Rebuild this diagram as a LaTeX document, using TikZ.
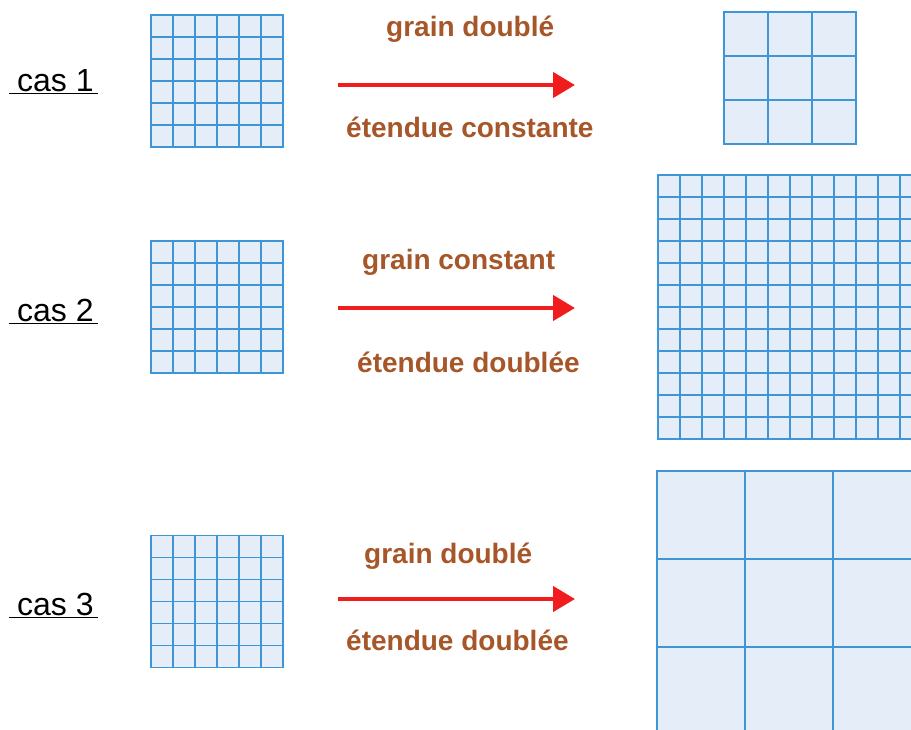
\documentclass[tikz,border=0pt]{standalone}
\usepackage{fontspec}
\setmainfont{Liberation Sans}
\usepackage{xcolor}
\usepackage{tikz}
\usetikzlibrary{positioning,arrows.meta,calc}
\definecolor{gridblue}{RGB}{62,150,214}
\definecolor{gridfill}{RGB}{229,237,248}
\definecolor{labelbrown}{RGB}{166,86,40}
\definecolor{arrowred}{RGB}{240,28,30}
\tikzset{
  gridbox/.style = {draw=gridblue, fill=gridfill, line width=1.8pt,
                    inner sep=0pt, outer sep=0pt},
  gridln/.style  = {draw=gridblue, line width=1.8pt},
  caslbl/.style  = {font=\fontsize{32}{38}\selectfont, inner sep=0pt,
                    anchor=base west},
  orlbl/.style   = {font=\fontsize{28}{34}\selectfont\bfseries,
                    text=labelbrown, inner sep=0pt, anchor=base west},
  ar/.style      = {-{Triangle[length=22pt,width=25pt]}, draw=arrowred,
                    line width=4.5pt},
}
% #1 grid node, #2 cells per side, #3 cell size
\newcommand{\quadrillage}[3]{%
  \foreach \k in {1,...,#2}{
    \draw[gridln] ($(#1.north west)+(\k*#3,0)$) -- ($(#1.south west)+(\k*#3,0)$);
    \draw[gridln] ($(#1.north west)+(0,\k*#3)$) -- ($(#1.north east)+(0,\k*#3)$);
  }}

\begin{document}
\begin{tikzpicture}[x=1pt, y=-1pt]
\useasboundingbox (0,0) rectangle (911,729);
\clip (0,0) rectangle (911,729);

% --- case labels ---
\node[caslbl] (cas1) at (9,91)  {\underline{\hspace{8pt}cas 1\hspace{4pt}}};
\node[caslbl] (cas2) at (9,321) {\underline{\hspace{8pt}cas 2\hspace{4pt}}};
\node[caslbl] (cas3) at (9,615) {\underline{\hspace{8pt}cas 3\hspace{4pt}}};

% --- source grids ---
\node[gridbox, minimum size=132pt] (srcA) at (217,81)    {};
\node[gridbox, minimum size=132pt] (srcB) at (217,307)   {};
\node[gridbox, minimum size=132pt] (srcC) at (217,601.5) {};
\quadrillage{srcA}{6}{22}
\quadrillage{srcB}{6}{22}
\quadrillage{srcC}{6}{22}

% --- result grids ---
\node[gridbox, minimum size=132pt] (resA) at (790,78)  {};
\node[gridbox, minimum size=264pt] (resB) at (790,307) {};
\node[gridbox, minimum size=264pt] (resC) at (789,603) {};
\quadrillage{resA}{3}{44}
\quadrillage{resB}{12}{22}
\quadrillage{resC}{3}{88}

% --- arrows ---
\coordinate (arA1) at (338,85);  \coordinate (arA2) at (575,85);
\coordinate (arB1) at (338,308); \coordinate (arB2) at (575,308);
\coordinate (arC1) at (338,599); \coordinate (arC2) at (575,599);
\draw[ar] (arA1) -- (arA2);
\draw[ar] (arB1) -- (arB2);
\draw[ar] (arC1) -- (arC2);

% --- labels ---
\node[orlbl] (grA) at (386,36)  {grain doublé};
\node[orlbl] (etA) at (346,137) {étendue constante};
\node[orlbl] (grB) at (362,269) {grain constant};
\node[orlbl] (etB) at (357,372) {étendue doublée};
\node[orlbl] (grC) at (364,563) {grain doublé};
\node[orlbl] (etC) at (346,650) {étendue doublée};
\end{tikzpicture}
\end{document}
